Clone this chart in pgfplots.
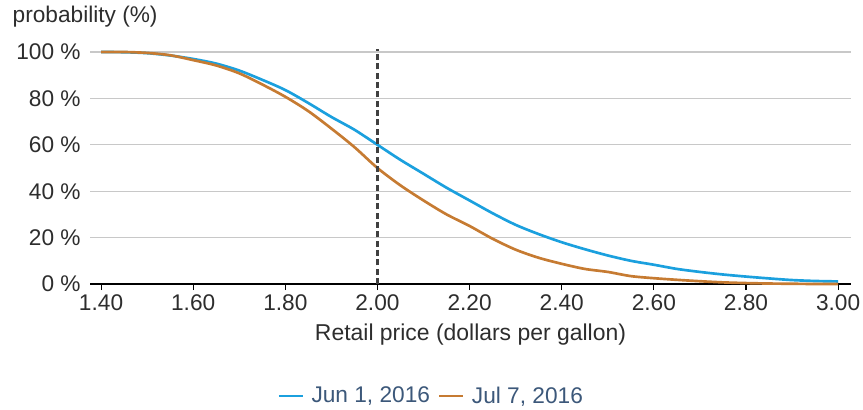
\documentclass[border=0pt]{standalone}
\usepackage{pgfplots}
\pgfplotsset{compat=1.18}
\usepackage{fontspec}
\setmainfont{Liberation Sans}

\definecolor{junblue}{RGB}{27,160,222}
\definecolor{julorange}{RGB}{198,123,50}
\definecolor{gridgray}{RGB}{200,200,200}
\definecolor{legtext}{RGB}{60,88,122}
\definecolor{txt}{RGB}{45,45,45}

\begin{document}
\begin{tikzpicture}
  % 1 px of the reference = 0.75pt
  \useasboundingbox (0pt,0pt) rectangle (647.25pt,307.5pt);
  \begin{axis}[
    at={(67.5pt,94.5pt)}, anchor=south west,
    scale only axis,
    width=570.75pt, height=174pt,
    xmin=1.376, xmax=3.028,
    ymin=0, ymax=100,
    axis x line*=bottom,
    axis y line*=left,
    y axis line style={draw=none},
    x axis line style={-, black, line width=1pt},
    xtick={1.4,1.6,...,3.0},
    ytick={0,20,...,100},
    tick align=outside,
    xtick style={black, line width=0.8pt},
    ytick style={draw=none},
    major tick length=4.5pt,
    ymajorgrids=true,
    grid style={gridgray, line width=0.8pt},
    /pgf/number format/assume math mode=true,
    tick label style={font=\fontsize{17}{20}\selectfont, text=txt},
    xticklabel style={/pgf/number format/.cd, fixed, fixed zerofill, precision=2},
    yticklabel={\pgfmathprintnumber{\tick} \%},
    yticklabel style={xshift=1pt},
    xlabel={Retail price (dollars per gallon)},
    xlabel style={font=\fontsize{17.2}{20}\selectfont, text=txt, yshift=-3pt},
    legend columns=2,
    legend style={at={(0.4488,-0.483)}, anchor=center, draw=none,
      font=\fontsize{17}{20}\selectfont, text=legtext,
      /tikz/every even column/.append style={column sep=4pt}},
    legend image code/.code={\draw[#1, line width=2pt] (0pt,0pt) -- (18pt,0pt); \path (21.5pt,0pt);},
    clip=false,
    ]
    \addplot[junblue, line width=2pt, smooth] coordinates {
      (1.40,100)(1.45,99.9)(1.50,99.5)(1.55,98.5)(1.60,97)(1.65,95)
      (1.70,92)(1.75,88)(1.80,83.6)(1.85,78)(1.90,72)(1.95,66.5)
      (2.00,60)(2.05,53.5)(2.10,47.5)(2.15,41.5)(2.20,36)(2.25,30.5)
      (2.30,25.5)(2.35,21.5)(2.40,18)(2.45,15)(2.50,12.3)(2.55,10)
      (2.60,8.3)(2.65,6.5)(2.70,5.2)(2.75,4.1)(2.80,3.2)(2.85,2.4)
      (2.90,1.7)(2.95,1.3)(3.00,1.1)
    };
    \addplot[julorange, line width=2pt, smooth] coordinates {
      (1.40,100)(1.45,100)(1.50,99.6)(1.55,98.6)(1.60,96.5)(1.65,94.2)
      (1.70,90.8)(1.75,86)(1.80,80.7)(1.85,74.5)(1.90,67)(1.95,59)
      (2.00,50)(2.05,42.5)(2.10,36)(2.15,30)(2.20,25)(2.25,19.5)
      (2.30,14.8)(2.35,11.3)(2.40,8.7)(2.45,6.5)(2.50,5.2)(2.55,3.4)
      (2.60,2.5)(2.65,1.8)(2.70,1.2)(2.75,0.7)(2.80,0.4)(2.85,0.2)
      (2.90,0.1)(2.95,0)(3.00,0)
    };
    \addplot[black!75, line width=1.6pt, dash pattern=on 4.5pt off 2.5pt, forget plot]
      coordinates {(2.00,0)(2.00,101.5)};
    \legend{{Jun 1, 2016}, {Jul 7, 2016}}
  \end{axis}
  \node[anchor=west, font=\fontsize{17}{20}\selectfont, text=txt] at (6pt,294.75pt) {probability (\%)};
\end{tikzpicture}
\end{document}
